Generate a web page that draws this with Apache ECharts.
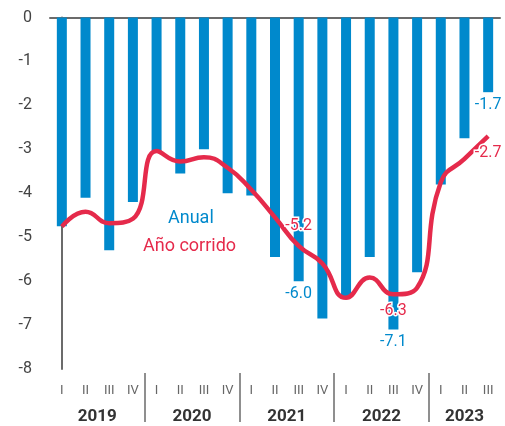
<!DOCTYPE html>
<html>
<head>
<meta charset="utf-8">
<script src="https://cdn.jsdelivr.net/npm/echarts@6/dist/echarts.min.js"></script>
<style>
html,body{margin:0;padding:0;background:#fff;}
#chart{width:505px;height:426px;}
</style>
</head>
<body>
<div id="chart"></div>
<script>
// ---- data ----
var quarters = ['I','II','III','IV','I','II','III','IV','I','II','III','IV','I','II','III','IV','I','II','III'];
var years = ['2019','2020','2021','2022','2023'];
var quartersPerYear = [4,4,4,4,3];
var anual = [-4.75,-4.1,-5.3,-4.2, -3.05,-3.55,-3.0,-4.0, -4.05,-5.45,-6.0,-6.85, -6.35,-5.45,-7.1,-5.8, -3.8,-2.75,-1.7];
var anoCorrido = [-4.76,-4.42,-4.68,-4.58, -3.04,-3.28,-3.18,-3.42, -3.92,-4.55,-5.2,-5.6, -6.38,-5.92,-6.3,-6.15, -3.75,-3.22,-2.7];
var yTicks = {min:-8, max:0, interval:1};
var anualLabelIdx = [10,14,18];
var corridoLabelIdx = {10:'top', 14:'bottom', 18:'bottom'};

// ---- derived helpers ----
var blue = '#0089CC', red = '#E52A4B';
var yearCenters = [], separators = [], start = 0;
quartersPerYear.forEach(function(n,i){
  yearCenters.push(start + (n-1)/2);
  if (i > 0) separators.push(start - 0.5);
  start += n;
});
function yearFor(v){
  for (var i=0;i<yearCenters.length;i++){ if (Math.abs(yearCenters[i]-v)<0.01) return years[i]; }
  return '';
}
var barData = anual.map(function(v,i){
  var o = {value:v};
  if (anualLabelIdx.indexOf(i) >= 0) {
    o.label = {show:true, position:'bottom', distance:5, color:blue, fontSize:16,
      fontFamily:'Roboto', textBorderColor:'#fff', textBorderWidth:3,
      formatter:function(p){return p.value.toFixed(1);}};
  }
  return o;
});
var lineData = anoCorrido.map(function(v,i){
  var o = {value:v};
  if (corridoLabelIdx[i]) {
    o.label = {show:true, position:corridoLabelIdx[i], distance: corridoLabelIdx[i]==='top'?12:9,
      color:red, fontSize:16, fontFamily:'Roboto', textBorderColor:'#fff', textBorderWidth:3,
      formatter:function(p){return p.value.toFixed(1);}};
  }
  return o;
});

var chart = echarts.init(document.getElementById('chart'), null, {renderer:'canvas'});
chart.setOption({
  animation:false,
  backgroundColor:'#fff',
  textStyle:{fontFamily:'Roboto'},
  grid:{left:50, right:5, top:17.5, bottom:57, containLabel:false},
  legend:[
    {data:[{name:'Anual', textStyle:{color:blue}}], icon:'none', itemWidth:0, itemHeight:0,
     left:158, top:204, textStyle:{fontSize:18, fontFamily:'Roboto', color:blue}, selectedMode:false},
    {data:[{name:'Año corrido', textStyle:{color:red}}], icon:'none', itemWidth:0, itemHeight:0,
     left:133, top:232, textStyle:{fontSize:18, fontFamily:'Roboto', color:red}, selectedMode:false}
  ],
  xAxis:[
    {type:'category', data:quarters, position:'bottom', boundaryGap:true,
     axisLine:{show:false}, axisTick:{show:false},
     axisLabel:{margin:15, fontSize:13, color:'#666', interval:0}},
    {type:'category', data:quarters, position:'top', boundaryGap:true,
     axisLine:{show:true, onZero:false, lineStyle:{color:'#6b6b6b', width:2}},
     axisTick:{show:false}, axisLabel:{show:false}},
    {type:'value', min:-0.5, max:quarters.length-0.5, position:'bottom', offset:4,
     axisLine:{show:false}, splitLine:{show:false},
     axisTick:{show:true, customValues:separators, length:49, lineStyle:{color:'#6b6b6b', width:1.5}},
     axisLabel:{customValues:yearCenters, formatter:function(v){return yearFor(v);},
       margin:35, fontSize:17, fontWeight:'bold', color:'#333'}}
  ],
  yAxis:{type:'value', min:yTicks.min, max:yTicks.max, interval:yTicks.interval,
    axisLine:{show:true, lineStyle:{color:'#6b6b6b', width:2}},
    axisTick:{show:false}, splitLine:{show:false},
    axisLabel:{margin:18, fontSize:16, color:'#444'}},
  series:[
    {name:'Anual', type:'bar', xAxisIndex:0, data:barData, barWidth:10,
     itemStyle:{color:blue}, z:2},
    {name:'Año corrido', type:'line', xAxisIndex:0, data:lineData, smooth:true,
     showSymbol:true, symbol:'circle', symbolSize:0,
     lineStyle:{color:red, width:4.5}, itemStyle:{color:red}, z:3}
  ]
});
</script>
</body>
</html>
